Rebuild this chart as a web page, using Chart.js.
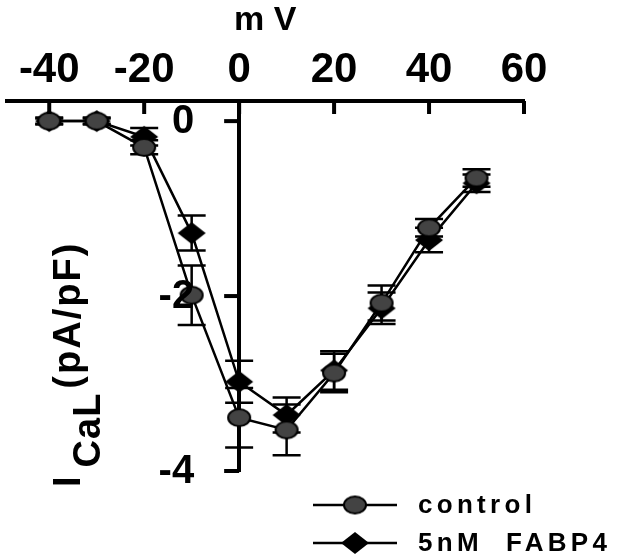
<!DOCTYPE html>
<html>
<head>
<meta charset="utf-8">
<script src="https://cdn.jsdelivr.net/npm/chart.js@4"></script>
<style>
  html, body { margin: 0; padding: 0; background: #fff; }
  #wrap { width: 617px; height: 558px; }
</style>
</head>
<body>
<div id="wrap"><canvas id="chart" width="617" height="558"></canvas></div>
<script>
// membrane potential (mV)
const voltages = [-40, -30, -20, -10, 0, 10, 20, 30, 40, 50];
// I_CaL density (pA/pF), mean and SEM
const controlMean = [0, 0, -0.3, -1.99, -3.39, -3.53, -2.88, -2.08, -1.22, -0.65];
const controlSem = [0.04, 0.04, 0.08, 0.34, 0.34, 0.29, 0.22, 0.2, 0.1, 0.1];
const fabp4Mean = [0, 0, -0.18, -1.28, -2.98, -3.36, -2.85, -2.14, -1.36, -0.71];
const fabp4Sem = [0.03, 0.03, 0.1, 0.2, 0.24, 0.2, 0.22, 0.18, 0.14, 0.1];

const xTicks = [-40, -20, 0, 20, 40, 60];
const yTicks = [0, -2, -4];
const seriesNames = ['control', '5nM  FABP4'];

const FONT = 'Liberation Sans, Arial, sans-serif';

function makeEllipse() {
  const c = document.createElement('canvas');
  c.width = 26; c.height = 21;
  const g = c.getContext('2d');
  g.beginPath();
  g.ellipse(13, 10.5, 11, 8.5, 0, 0, Math.PI * 2);
  g.fillStyle = '#434343';
  g.fill();
  g.lineWidth = 2;
  g.strokeStyle = '#000';
  g.stroke();
  return c;
}

function makeDiamond() {
  const c = document.createElement('canvas');
  c.width = 30; c.height = 24;
  const g = c.getContext('2d');
  g.beginPath();
  g.moveTo(15, 1); g.lineTo(29, 12); g.lineTo(15, 23); g.lineTo(1, 12);
  g.closePath();
  g.fillStyle = '#000';
  g.fill();
  return c;
}

const circleImg = makeEllipse();
const diamondImg = makeDiamond();

const errorBars = {
  id: 'errorBars',
  beforeDatasetsDraw(chart) {
    const { ctx, scales: { x, y } } = chart;
    const sems = [controlSem, fabp4Sem];
    ctx.save();
    ctx.strokeStyle = '#000';
    ctx.lineWidth = 2.5;
    chart.data.datasets.forEach((ds, i) => {
      ds.data.forEach((p, j) => {
        const px = x.getPixelForValue(p.x);
        const top = y.getPixelForValue(p.y + sems[i][j]);
        const bot = y.getPixelForValue(p.y - sems[i][j]);
        ctx.beginPath();
        ctx.moveTo(px, top); ctx.lineTo(px, bot);
        ctx.moveTo(px - 14, top); ctx.lineTo(px + 14, top);
        ctx.moveTo(px - 14, bot); ctx.lineTo(px + 14, bot);
        ctx.stroke();
      });
    });
    ctx.restore();
  }
};

const extras = {
  id: 'extras',
  afterDraw(chart) {
    const { ctx, scales: { x, y } } = chart;
    ctx.save();
    ctx.strokeStyle = '#000';
    ctx.fillStyle = '#000';
    ctx.lineWidth = 4;
    // inward tick marks on the top axis
    const yTop = y.getPixelForValue(y.max);
    xTicks.forEach((v) => {
      const px = x.getPixelForValue(v);
      ctx.beginPath();
      ctx.moveTo(px, yTop);
      ctx.lineTo(px, yTop + 13);
      ctx.stroke();
    });

    // y axis ticks and labels, at x = 0
    const x0 = x.getPixelForValue(0);
    ctx.font = 'bold 40px ' + FONT;
    ctx.textAlign = 'right';
    ctx.textBaseline = 'middle';
    yTicks.forEach((v) => {
      const py = y.getPixelForValue(v);
      ctx.beginPath();
      ctx.moveTo(x0 - 15, py);
      ctx.lineTo(x0, py);
      ctx.stroke();
      ctx.fillText(String(v), x0 - 45, py + 1);
    });
    ctx.textAlign = 'left';

    // y axis title with subscript
    ctx.translate(80, 487);
    ctx.rotate(-Math.PI / 2);
    ctx.font = 'bold 38px ' + FONT;
    ctx.textBaseline = 'alphabetic';
    ctx.letterSpacing = '1px';
    ctx.fillText('I', 0, 0);
    let off = ctx.measureText('I').width + 8;
    ctx.fillText('CaL', off, 20);
    off += ctx.measureText('CaL').width + 4;
    ctx.letterSpacing = '2px';
    ctx.fillText('(pA/pF)', off, 0);
    ctx.setTransform(1, 0, 0, 1, 0, 0);

    // legend
    const rows = [505, 543];
    const imgs = [circleImg, diamondImg];
    ctx.font = 'bold 26px ' + FONT;
    ctx.letterSpacing = '4.3px';
    ctx.textBaseline = 'middle';
    rows.forEach((ry, i) => {
      ctx.lineWidth = 2.5;
      ctx.beginPath();
      ctx.moveTo(313, ry); ctx.lineTo(397, ry);
      ctx.stroke();
      const im = imgs[i];
      ctx.drawImage(im, 355 - im.width / 2, ry - im.height / 2);
      ctx.fillText(seriesNames[i], 418, ry + 1);
    });
    ctx.restore();
  }
};

const ctx = document.getElementById('chart').getContext('2d');

new Chart(ctx, {
  type: 'line',
  data: {
    datasets: [
      {
        label: seriesNames[0],
        data: voltages.map((v, i) => ({ x: v, y: controlMean[i] })),
        borderColor: '#000',
        borderWidth: 2.5,
        pointStyle: circleImg,
        tension: 0,
      },
      {
        label: seriesNames[1],
        data: voltages.map((v, i) => ({ x: v, y: fabp4Mean[i] })),
        borderColor: '#000',
        borderWidth: 2.5,
        pointStyle: diamondImg,
        tension: 0,
      },
    ],
  },
  options: {
    responsive: false,
    animation: false,
    layout: { padding: { left: 4, right: 93, top: 0, bottom: 87 } },
    plugins: {
      legend: { display: false },
      tooltip: { enabled: false },
    },
    scales: {
      x: {
        type: 'linear',
        position: 'top',
        min: -49,
        max: 60,
        afterBuildTicks: (s) => { s.ticks = xTicks.map((v) => ({ value: v })); },
        afterFit: (s) => { s.height = 101; },
        grid: { display: false, drawTicks: false },
        border: { display: true, width: 4, color: '#000' },
        ticks: {
          color: '#000',
          padding: 5,
          font: { family: FONT, size: 42, weight: 'bold' },
        },
        title: {
          display: true,
          text: 'm V',
          color: '#000',
          padding: { top: 0, bottom: 0 },
          font: { family: FONT, size: 34, weight: 'bold' },
        },
      },
      y: {
        type: 'linear',
        position: { x: 0 },
        min: -4,
        max: 0.23,
        afterBuildTicks: (s) => { s.ticks = yTicks.map((v) => ({ value: v })); },
        grid: { display: false },
        border: { display: true, width: 4, color: '#000' },
        ticks: { display: false },
      },
    },
  },
  plugins: [errorBars, extras],
});
</script>
</body>
</html>
